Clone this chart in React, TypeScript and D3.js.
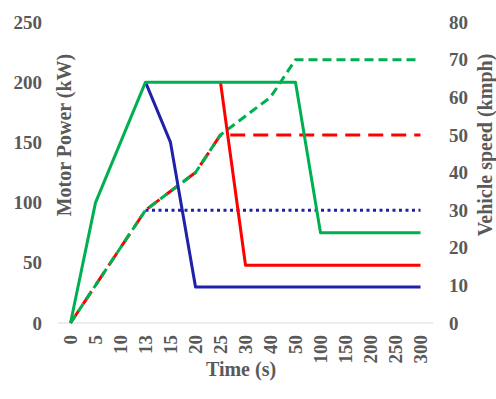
import React, { useRef, useEffect } from "react";
import { select, scalePoint, scaleLinear, line } from "d3";

// x categories (time, s)
const categories = ["0", "5", "10", "13", "15", "20", "25", "30", "40", "50", "100", "150", "200", "250", "300"];

// motor power (kW), left axis
const powerGreen = [0, 100, 150, 200, 200, 200, 200, 200, 200, 200, 75, 75, 75, 75, 75];
const powerRed = [0, 100, 150, 200, 200, 200, 200, 48, 48, 48, 48, 48, 48, 48, 48];
const powerBlue = [0, 100, 150, 200, 150, 30, 30, 30, 30, 30, 30, 30, 30, 30, 30];

// vehicle speed (kmph), right axis
const speedGreen = [0, 10, 20, 30, 35, 40, 50, 55, 60, 70, 70, 70, 70, 70, 70];
const speedRed = [0, 10, 20, 30, 35, 40, 50, 50, 50, 50, 50, 50, 50, 50, 50];
const speedBlue = [0, 10, 20, 30, 30, 30, 30, 30, 30, 30, 30, 30, 30, 30, 30];

const powerTicks = [0, 50, 100, 150, 200, 250];
const speedTicks = [0, 10, 20, 30, 40, 50, 60, 70, 80];

const GREEN = "#00B050";
const RED = "#FF0000";
const BLUE = "#2020A8";
const TEXT = "#595959";
const FONT = "'Liberation Serif', 'Times New Roman', serif";

function App() {
  const svgRef = useRef<SVGSVGElement>(null);

  useEffect(() => {
    const svg = select(svgRef.current);
    svg.selectAll("*").remove();

    const left = 58, right = 433, top = 22, bottom = 323;

    const x = scalePoint<string>().domain(categories).range([left, right]).padding(0.5);
    const yPower = scaleLinear().domain([0, 250]).range([bottom, top]);
    const ySpeed = scaleLinear().domain([0, 80]).range([bottom, top]);

    // axis line
    svg.append("line")
      .attr("x1", left).attr("x2", right)
      .attr("y1", bottom).attr("y2", bottom)
      .attr("stroke", "#D9D9D9").attr("stroke-width", 1);

    const text = (sel: any) =>
      sel.attr("fill", TEXT).attr("font-family", FONT).attr("font-weight", "bold");

    // left ticks
    svg.selectAll(".yl").data(powerTicks).join("text")
      .attr("class", "yl")
      .attr("x", 42).attr("y", d => yPower(d)).attr("dy", "0.35em")
      .attr("text-anchor", "end").attr("font-size", 19)
      .text(d => d).call(text);

    // right ticks
    svg.selectAll(".yr").data(speedTicks).join("text")
      .attr("class", "yr")
      .attr("x", 449).attr("y", d => ySpeed(d)).attr("dy", "0.35em")
      .attr("text-anchor", "start").attr("font-size", 19)
      .text(d => d).call(text);

    // x ticks (rotated)
    svg.selectAll(".xt").data(categories).join("text")
      .attr("class", "xt")
      .attr("transform", d => `translate(${x(d)},${bottom + 12}) rotate(-90)`)
      .attr("dy", "0.35em")
      .attr("text-anchor", "end").attr("font-size", 19)
      .text(d => d).call(text);

    // axis titles
    svg.append("text")
      .attr("x", 241).attr("y", 376)
      .attr("text-anchor", "middle").attr("font-size", 20)
      .text("Time (s)").call(text);

    svg.append("text")
      .attr("transform", "translate(71,135) rotate(-90)")
      .attr("text-anchor", "middle").attr("font-size", 20)
      .text("Motor Power (kW)").call(text);

    svg.append("text")
      .attr("transform", "translate(492,145) rotate(-90)")
      .attr("text-anchor", "middle").attr("font-size", 20)
      .text("Vehicle speed (kmph)").call(text);

    // "from" = first point drawn; earlier segments lie under another series
    const series = [
      { data: speedBlue, y: ySpeed, color: BLUE, dash: "3,3.5", from: 3 },
      { data: speedRed, y: ySpeed, color: RED, dash: "15,8", from: 0 },
      { data: speedGreen, y: ySpeed, color: GREEN, dash: "9,5", from: 0 },
      { data: powerBlue, y: yPower, color: BLUE, dash: null, from: 3 },
      { data: powerRed, y: yPower, color: RED, dash: null, from: 6 },
      { data: powerGreen, y: yPower, color: GREEN, dash: null, from: 0 },
    ];

    series.forEach(s => {
      const gen = line<number>()
        .defined((d, i) => i >= s.from)
        .x((d, i) => x(categories[i]) as number)
        .y(d => s.y(d));
      svg.append("path")
        .datum(s.data)
        .attr("fill", "none")
        .attr("stroke", s.color)
        .attr("stroke-width", 3)
        .attr("stroke-linejoin", "round")
        .attr("stroke-dasharray", s.dash)
        .attr("d", gen);
    });
  }, []);

  return (
    <svg
      ref={svgRef}
      width={496}
      height={399}
      style={{ position: "absolute", left: 0, top: 0, background: "#fff" }}
    />
  );
}

export default App;
